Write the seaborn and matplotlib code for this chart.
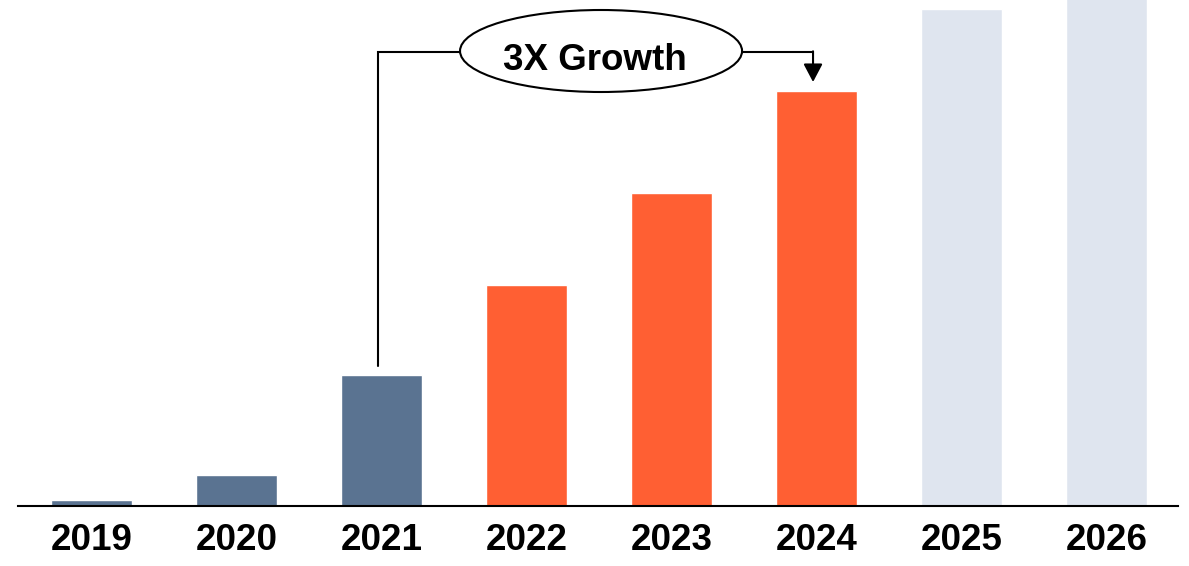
import numpy as np
import pandas as pd
import seaborn as sns
import matplotlib
matplotlib.use("Agg")
import matplotlib.pyplot as plt
from matplotlib.patches import Ellipse

# data (baseline-to-top heights, arbitrary units)
years = ["2019", "2020", "2021", "2022", "2023", "2024", "2025", "2026"]
values = [6, 31, 131, 221, 313, 415, 497, 540]
bar_colors = ["#5A7391", "#5A7391", "#5A7391",
              "#FF5F33", "#FF5F33", "#FF5F33",
              "#DFE5EF", "#DFE5EF"]
label = "3X Growth"
start_year, end_year = "2021", "2024"

sns.set_theme(style="white")
plt.rcParams["font.family"] = ["Liberation Sans", "DejaVu Sans"]

df = pd.DataFrame({"year": years, "value": values})

fig = plt.figure(figsize=(11.89, 5.66), dpi=100)
ax = fig.add_axes([18 / 1189, 60 / 566, 1160 / 1189, 506 / 566])

sns.barplot(data=df, x="year", y="value", hue="year", palette=bar_colors,
            legend=False, width=0.56, saturation=1, ax=ax)

ax.set_xlim(-0.507, 7.493)
ax.set_ylim(0, 506)
ax.set_xlabel("")
ax.set_ylabel("")
ax.set_yticks([])
for s in ["top", "left", "right"]:
    ax.spines[s].set_visible(False)
ax.spines["bottom"].set_color("black")
ax.spines["bottom"].set_linewidth(1.5)
ax.tick_params(axis="x", length=0, pad=12.5, labelsize=26.5)
for t in ax.get_xticklabels():
    t.set_fontweight("bold")
    t.set_color("black")

# growth annotation: bracket from 2021 bar up, across, down to 2024 bar
i0 = years.index(start_year)
i1 = years.index(end_year)
x0 = i0 - 0.025
x1 = i1 - 0.024
y_top = 454
ax.plot([x0, x0, x1], [values[i0] + 9, y_top, y_top], color="black", lw=1.5,
        solid_joinstyle="miter", zorder=3, clip_on=False)
ax.annotate("", xy=(x1, values[i1] + 9), xytext=(x1, y_top + 0.7),
            arrowprops=dict(arrowstyle="-|>,head_length=0.55,head_width=0.29",
                            mutation_scale=20, color="black", lw=1.5,
                            shrinkA=0, shrinkB=0), zorder=3)
ell = Ellipse(((i0 + i1) / 2 + 0.014, 455), 1.945, 82, facecolor="white",
              edgecolor="black", lw=1.5, zorder=4, clip_on=False)
ax.add_patch(ell)
ax.text((i0 + i1) / 2 - 0.031, 446, label, ha="center", va="center",
        fontsize=26.5, fontweight="bold", color="black", zorder=5)

fig.savefig("out.png", dpi=100)
